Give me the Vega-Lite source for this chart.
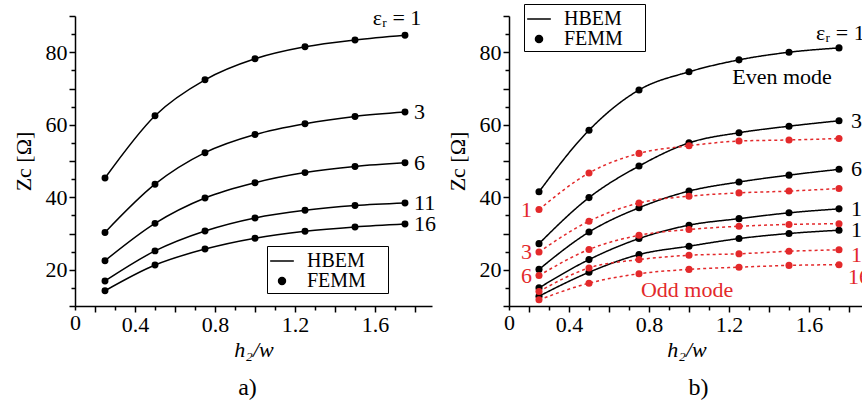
{
  "$schema": "https://vega.github.io/schema/vega-lite/v6.json",
  "padding": {"left": 12, "top": 3, "right": 0, "bottom": 5},
  "background": "white",
  "spacing": 77,
  "bounds": "flush",
  "resolve": {"scale": {"shape": "independent", "size": "independent", "color": "independent", "strokeDash": "independent"}, "legend": {"shape": "independent", "size": "independent"}},
  "config": {
    "font": "Liberation Serif",
    "view": {"stroke": null},
    "axis": {"domainColor": "black", "domainWidth": 1.5, "tickColor": "black", "tickWidth": 1.5, "labelColor": "black", "labelFontSize": 22, "labelFont": "Liberation Serif", "titleFont": "Liberation Serif", "titleFontSize": 22, "titleFontWeight": "normal", "titleColor": "black", "grid": false, "labelFlush": false, "labelOverlap": false},
    "legend": {"labelFont": "Liberation Serif", "labelFontSize": 20, "labelColor": "black", "strokeColor": "black", "fillColor": "white", "padding": 2, "rowPadding": 0, "labelOffset": 12, "symbolStrokeColor": "black", "symbolFillColor": "black", "symbolStrokeWidth": 1.5, "cornerRadius": 0},
    "title": {"font": "Liberation Serif", "fontSize": 24, "fontWeight": "normal", "color": "black"},
    "text": {"font": "Liberation Serif", "fontSize": 22}
  },
  "datasets": {
    "a": [
      {"x": 0.25, "eps": 1, "z": 45.3}, {"x": 0.5, "eps": 1, "z": 62.5}, {"x": 0.75, "eps": 1, "z": 72.4}, {"x": 1.0, "eps": 1, "z": 78.2}, {"x": 1.25, "eps": 1, "z": 81.5}, {"x": 1.5, "eps": 1, "z": 83.4}, {"x": 1.75, "eps": 1, "z": 84.7},
      {"x": 0.25, "eps": 3, "z": 30.3}, {"x": 0.5, "eps": 3, "z": 43.6}, {"x": 0.75, "eps": 3, "z": 52.3}, {"x": 1.0, "eps": 3, "z": 57.3}, {"x": 1.25, "eps": 3, "z": 60.3}, {"x": 1.5, "eps": 3, "z": 62.3}, {"x": 1.75, "eps": 3, "z": 63.5},
      {"x": 0.25, "eps": 6, "z": 22.5}, {"x": 0.5, "eps": 6, "z": 32.8}, {"x": 0.75, "eps": 6, "z": 39.8}, {"x": 1.0, "eps": 6, "z": 44.0}, {"x": 1.25, "eps": 6, "z": 46.8}, {"x": 1.5, "eps": 6, "z": 48.5}, {"x": 1.75, "eps": 6, "z": 49.5},
      {"x": 0.25, "eps": 11, "z": 16.9}, {"x": 0.5, "eps": 11, "z": 25.2}, {"x": 0.75, "eps": 11, "z": 30.7}, {"x": 1.0, "eps": 11, "z": 34.3}, {"x": 1.25, "eps": 11, "z": 36.4}, {"x": 1.5, "eps": 11, "z": 37.7}, {"x": 1.75, "eps": 11, "z": 38.4},
      {"x": 0.25, "eps": 16, "z": 14.2}, {"x": 0.5, "eps": 16, "z": 21.3}, {"x": 0.75, "eps": 16, "z": 25.7}, {"x": 1.0, "eps": 16, "z": 28.7}, {"x": 1.25, "eps": 16, "z": 30.6}, {"x": 1.5, "eps": 16, "z": 31.8}, {"x": 1.75, "eps": 16, "z": 32.6}
    ],
    "b": [
      {"x": 0.25, "eps": 1, "mode": "even", "z": 41.5}, {"x": 0.5, "eps": 1, "mode": "even", "z": 58.5}, {"x": 0.75, "eps": 1, "mode": "even", "z": 69.6}, {"x": 1.0, "eps": 1, "mode": "even", "z": 74.6}, {"x": 1.25, "eps": 1, "mode": "even", "z": 77.9}, {"x": 1.5, "eps": 1, "mode": "even", "z": 80.0}, {"x": 1.75, "eps": 1, "mode": "even", "z": 81.2},
      {"x": 0.25, "eps": 3, "mode": "even", "z": 27.2}, {"x": 0.5, "eps": 3, "mode": "even", "z": 39.9}, {"x": 0.75, "eps": 3, "mode": "even", "z": 48.6}, {"x": 1.0, "eps": 3, "mode": "even", "z": 55.0}, {"x": 1.25, "eps": 3, "mode": "even", "z": 57.8}, {"x": 1.5, "eps": 3, "mode": "even", "z": 59.6}, {"x": 1.75, "eps": 3, "mode": "even", "z": 61.1},
      {"x": 0.25, "eps": 6, "mode": "even", "z": 20.1}, {"x": 0.5, "eps": 6, "mode": "even", "z": 30.4}, {"x": 0.75, "eps": 6, "mode": "even", "z": 37.1}, {"x": 1.0, "eps": 6, "mode": "even", "z": 41.7}, {"x": 1.25, "eps": 6, "mode": "even", "z": 44.2}, {"x": 1.5, "eps": 6, "mode": "even", "z": 46.1}, {"x": 1.75, "eps": 6, "mode": "even", "z": 47.7},
      {"x": 0.25, "eps": 11, "mode": "even", "z": 15.0}, {"x": 0.5, "eps": 11, "mode": "even", "z": 22.8}, {"x": 0.75, "eps": 11, "mode": "even", "z": 28.6}, {"x": 1.0, "eps": 11, "mode": "even", "z": 32.3}, {"x": 1.25, "eps": 11, "mode": "even", "z": 34.1}, {"x": 1.5, "eps": 11, "mode": "even", "z": 35.7}, {"x": 1.75, "eps": 11, "mode": "even", "z": 36.8},
      {"x": 0.25, "eps": 16, "mode": "even", "z": 12.7}, {"x": 0.5, "eps": 16, "mode": "even", "z": 19.3}, {"x": 0.75, "eps": 16, "mode": "even", "z": 24.2}, {"x": 1.0, "eps": 16, "mode": "even", "z": 26.5}, {"x": 1.25, "eps": 16, "mode": "even", "z": 28.6}, {"x": 1.5, "eps": 16, "mode": "even", "z": 30.0}, {"x": 1.75, "eps": 16, "mode": "even", "z": 30.9},
      {"x": 0.25, "eps": 1, "mode": "odd", "z": 36.6}, {"x": 0.5, "eps": 1, "mode": "odd", "z": 46.7}, {"x": 0.75, "eps": 1, "mode": "odd", "z": 52.1}, {"x": 1.0, "eps": 1, "mode": "odd", "z": 54.2}, {"x": 1.25, "eps": 1, "mode": "odd", "z": 55.5}, {"x": 1.5, "eps": 1, "mode": "odd", "z": 55.8}, {"x": 1.75, "eps": 1, "mode": "odd", "z": 56.2},
      {"x": 0.25, "eps": 3, "mode": "odd", "z": 24.9}, {"x": 0.5, "eps": 3, "mode": "odd", "z": 33.4}, {"x": 0.75, "eps": 3, "mode": "odd", "z": 38.4}, {"x": 1.0, "eps": 3, "mode": "odd", "z": 40.3}, {"x": 1.25, "eps": 3, "mode": "odd", "z": 41.2}, {"x": 1.5, "eps": 3, "mode": "odd", "z": 41.7}, {"x": 1.75, "eps": 3, "mode": "odd", "z": 42.4},
      {"x": 0.25, "eps": 6, "mode": "odd", "z": 18.4}, {"x": 0.5, "eps": 6, "mode": "odd", "z": 25.6}, {"x": 0.75, "eps": 6, "mode": "odd", "z": 29.5}, {"x": 1.0, "eps": 6, "mode": "odd", "z": 31.1}, {"x": 1.25, "eps": 6, "mode": "odd", "z": 32.0}, {"x": 1.5, "eps": 6, "mode": "odd", "z": 32.5}, {"x": 1.75, "eps": 6, "mode": "odd", "z": 32.7},
      {"x": 0.25, "eps": 11, "mode": "odd", "z": 14.0}, {"x": 0.5, "eps": 11, "mode": "odd", "z": 20.5}, {"x": 0.75, "eps": 11, "mode": "odd", "z": 22.8}, {"x": 1.0, "eps": 11, "mode": "odd", "z": 24.0}, {"x": 1.25, "eps": 11, "mode": "odd", "z": 24.4}, {"x": 1.5, "eps": 11, "mode": "odd", "z": 25.1}, {"x": 1.75, "eps": 11, "mode": "odd", "z": 25.5},
      {"x": 0.25, "eps": 16, "mode": "odd", "z": 11.7}, {"x": 0.5, "eps": 16, "mode": "odd", "z": 16.3}, {"x": 0.75, "eps": 16, "mode": "odd", "z": 18.9}, {"x": 1.0, "eps": 16, "mode": "odd", "z": 20.1}, {"x": 1.25, "eps": 16, "mode": "odd", "z": 20.7}, {"x": 1.5, "eps": 16, "mode": "odd", "z": 21.2}, {"x": 1.75, "eps": 16, "mode": "odd", "z": 21.4}
    ],
    "notes": [
      {"x": 1.465, "z": 73.2, "mode": "even", "text": "Even mode"},
      {"x": 0.99, "z": 14.3, "mode": "odd", "text": "Odd mode"}
    ]
  },
  "hconcat": [
    {
      "width": 357,
      "height": 290,
      "title": {"text": "a)", "orient": "bottom", "offset": 16, "dx": -6},
      "data": {"name": "a"},
      "encoding": {
        "x": {"field": "x", "type": "quantitative", "scale": {"domain": [0.1, 1.885], "nice": false, "zero": false},
          "axis": {"title": "h₂/w", "titleFontStyle": "italic", "titlePadding": 4, "values": [0.1, 0.2, 0.3, 0.4, 0.5, 0.6, 0.7, 0.8, 0.9, 1.0, 1.1, 1.2, 1.3, 1.4, 1.5, 1.6, 1.7, 1.8],
            "labelExpr": "datum.value < 0.15 ? '0' : (round(datum.value*10) % 4 === 0 ? format(datum.value, '.1f') : '')",
            "tickSize": {"condition": {"test": "round(datum.value*10) % 2 === 0", "value": 6}, "value": 4}, "labelPadding": 2}},
        "y": {"field": "z", "type": "quantitative", "scale": {"domain": [10, 90], "nice": false, "zero": false},
          "axis": {"title": "Zc [Ω]", "titlePadding": 10, "values": [10, 15, 20, 25, 30, 35, 40, 45, 50, 55, 60, 65, 70, 75, 80, 85, 90],
            "labelExpr": "datum.value % 20 === 0 ? datum.label : ''",
            "tickSize": {"condition": {"test": "datum.value % 10 === 0", "value": 6}, "value": 4}, "labelPadding": 2}},
        "color": {"field": "eps", "type": "nominal", "scale": {"range": ["black"]}, "legend": null}
      },
      "layer": [
        {"mark": {"type": "line", "interpolate": "monotone", "strokeWidth": 1.5},
          "encoding": {"detail": {"field": "eps"}}},
        {"mark": {"type": "point", "filled": true, "opacity": 1},
          "encoding": {
            "shape": {"datum": "FEMM", "scale": {"domain": ["HBEM", "FEMM"], "range": ["stroke", "circle"]},
              "legend": {"title": null, "orient": "none", "legendX": 192, "legendY": 230, "labelExpr": "datum.label + '\u2002\u2002\u200b'"}},
            "size": {"datum": "FEMM", "scale": {"domain": ["HBEM", "FEMM"], "range": [560, 48]},
              "legend": {"title": null, "orient": "none", "legendX": 192, "legendY": 230, "labelExpr": "datum.label + '\u2002\u2002\u200b'"}}
          }},
        {"transform": [{"filter": "datum.x === 1.75 && datum.eps !== 1"}],
          "mark": {"type": "text", "align": "left", "baseline": "middle", "dx": 9, "color": "black"},
          "encoding": {"text": {"field": "eps"}, "color": {"value": "black"}}},
        {"transform": [{"filter": "datum.x === 1.75 && datum.eps === 1"}],
          "mark": {"type": "text", "align": "center", "baseline": "middle", "dx": -8, "dy": -17, "color": "black"},
          "encoding": {"text": {"value": "εᵣ = 1"}, "color": {"value": "black"}}}
      ]
    },
    {
      "width": 355,
      "height": 290,
      "title": {"text": "b)", "orient": "bottom", "offset": 16, "dx": 12},
      "encoding": {
        "x": {"field": "x", "type": "quantitative", "scale": {"domain": [0.1, 1.875], "nice": false, "zero": false},
          "axis": {"title": "h₂/w", "titleFontStyle": "italic", "titlePadding": 4, "values": [0.1, 0.2, 0.3, 0.4, 0.5, 0.6, 0.7, 0.8, 0.9, 1.0, 1.1, 1.2, 1.3, 1.4, 1.5, 1.6, 1.7, 1.8],
            "labelExpr": "datum.value < 0.15 ? '0' : (round(datum.value*10) % 4 === 0 ? format(datum.value, '.1f') : '')",
            "tickSize": {"condition": {"test": "round(datum.value*10) % 2 === 0", "value": 6}, "value": 4}, "labelPadding": 2}},
        "y": {"field": "z", "type": "quantitative", "scale": {"domain": [10, 90], "nice": false, "zero": false},
          "axis": {"title": "Zc [Ω]", "titlePadding": 10, "values": [10, 15, 20, 25, 30, 35, 40, 45, 50, 55, 60, 65, 70, 75, 80, 85, 90],
            "labelExpr": "datum.value % 20 === 0 ? datum.label : ''",
            "tickSize": {"condition": {"test": "datum.value % 10 === 0", "value": 6}, "value": 4}, "labelPadding": 2}},
        "color": {"field": "mode", "type": "nominal", "scale": {"domain": ["even", "odd"], "range": ["black", "#e3292b"]}, "legend": null}
      },
      "layer": [
        {"data": {"name": "b"},
          "mark": {"type": "line", "interpolate": "monotone", "strokeWidth": 1.5, "clip": true},
          "encoding": {"detail": {"field": "eps"},
            "strokeDash": {"field": "mode", "type": "nominal", "scale": {"domain": ["even", "odd"], "range": [[1, 0], [3, 3]]}, "legend": null}}},
        {"data": {"name": "b"},
          "mark": {"type": "point", "filled": true, "opacity": 1},
          "encoding": {
            "shape": {"datum": "FEMM", "scale": {"domain": ["HBEM", "FEMM"], "range": ["stroke", "circle"]},
              "legend": {"title": null, "orient": "none", "legendX": 15, "legendY": -12, "labelExpr": "datum.label + '\u2002\u2002\u200b'"}},
            "size": {"datum": "FEMM", "scale": {"domain": ["HBEM", "FEMM"], "range": [560, 50]},
              "legend": {"title": null, "orient": "none", "legendX": 15, "legendY": -12, "labelExpr": "datum.label + '\u2002\u2002\u200b'"}}
          }},
        {"data": {"name": "b"}, "transform": [{"filter": "datum.x === 1.75 && datum.eps !== 1 && datum.mode === 'even'"}],
          "mark": {"type": "text", "align": "left", "baseline": "middle", "dx": 12, "clip": true},
          "encoding": {"text": {"field": "eps"}}},
        {"data": {"name": "b"}, "transform": [{"filter": "datum.x === 1.75 && datum.eps === 1 && datum.mode === 'even'"}],
          "mark": {"type": "text", "align": "left", "baseline": "middle", "dx": -23, "dy": -15, "clip": true},
          "encoding": {"text": {"value": "εᵣ = 1"}}},
        {"data": {"name": "b"}, "transform": [{"filter": "datum.x === 0.25 && datum.eps <= 6 && datum.mode === 'odd'"}],
          "mark": {"type": "text", "align": "right", "baseline": "middle", "dx": -7, "clip": true},
          "encoding": {"text": {"field": "eps"}}},
        {"data": {"name": "b"}, "transform": [{"filter": "datum.x === 1.75 && datum.eps === 11 && datum.mode === 'odd'"}],
          "mark": {"type": "text", "align": "left", "baseline": "middle", "dx": 12, "dy": 5, "clip": true},
          "encoding": {"text": {"field": "eps"}}},
        {"data": {"name": "b"}, "transform": [{"filter": "datum.x === 1.75 && datum.eps === 16 && datum.mode === 'odd'"}],
          "mark": {"type": "text", "align": "left", "baseline": "middle", "dx": 9, "dy": 12, "clip": true},
          "encoding": {"text": {"field": "eps"}}},
        {"data": {"name": "notes"},
          "mark": {"type": "text", "align": "center", "baseline": "middle"},
          "encoding": {"text": {"field": "text"}}}
      ]
    }
  ]
}
